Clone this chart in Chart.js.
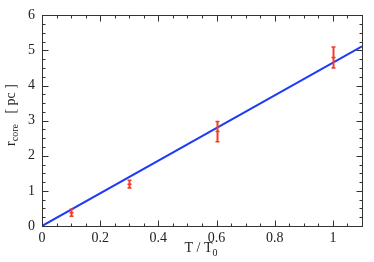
<!DOCTYPE html>
<html><head><meta charset="utf-8">
<script src="https://cdn.jsdelivr.net/npm/chart.js@4"></script>
<style>html,body{margin:0;padding:0;background:#fff}#wrap{width:374px;height:262px}</style>
</head><body><div id="wrap"><canvas id="c" width="374" height="262"></canvas></div>
<script>
// Data
const tValues = [0.1, 0.3, 0.6, 1.0];
const rCore = [0.38, 1.19, 2.69, 4.80];
const rErr = [0.10, 0.11, 0.29, 0.30];
const fitX = [0, 1.1];
const fitY = [0, 5.12];
const xTickValues = [0, 0.2, 0.4, 0.6, 0.8, 1.0];
const xTickLabels = ['0', '0.2', '0.4', '0.6', '0.8', '1'];
const yTickValues = [0, 1, 2, 3, 4, 5, 6];
const yTickLabels = ['0', '1', '2', '3', '4', '5', '6'];

const FONT = 'Liberation Serif';
const RED = '#f43a24';
const BLUE = '#1e3cf5';
const TXT = '#222';

const decorPlugin = {
  id: 'decor',
  afterDatasetsDraw(chart) {
    const ctx = chart.ctx, xs = chart.scales.x, ys = chart.scales.y;
    ctx.save();
    ctx.strokeStyle = RED; ctx.lineWidth = 2;
    tValues.forEach((t, i) => {
      const px = Math.round(xs.getPixelForValue(t)) + 0.5;
      const top = ys.getPixelForValue(rCore[i] + rErr[i]);
      const bot = ys.getPixelForValue(rCore[i] - rErr[i]);
      const mid = ys.getPixelForValue(rCore[i]);
      ctx.beginPath();
      ctx.moveTo(px, top); ctx.lineTo(px, bot);
      ctx.stroke();
      ctx.lineWidth = 1.5;
      ctx.beginPath();
      ctx.moveTo(px - 2, top); ctx.lineTo(px + 2, top);
      ctx.moveTo(px - 2, bot); ctx.lineTo(px + 2, bot);
      ctx.moveTo(px - 2, mid); ctx.lineTo(px + 2, mid);
      ctx.stroke();
      ctx.lineWidth = 2;
    });
    ctx.restore();
  },
  afterDraw(chart) {
    const ctx = chart.ctx, xs = chart.scales.x, ys = chart.scales.y, a = chart.chartArea;
    ctx.save();
    ctx.strokeStyle = '#333'; ctx.lineWidth = 1;
    const L = Math.round(a.left) + 0.5, R = Math.round(a.right) + 0.5, T = Math.round(a.top) + 0.5, B = Math.round(a.bottom) + 0.5;
    ctx.strokeRect(L, T, R - L, B - T);
    ctx.beginPath();
    for (let v = 0; v <= 1.1001; v += 0.05) {
      const major = Math.abs(v / 0.2 - Math.round(v / 0.2)) < 1e-6;
      const len = major ? 6 : 3;
      const px = Math.round(xs.getPixelForValue(v)) + 0.5;
      ctx.moveTo(px, B); ctx.lineTo(px, B - len);
      ctx.moveTo(px, T); ctx.lineTo(px, T + len);
    }
    for (let v = 0; v <= 6.001; v += 0.25) {
      const major = Math.abs(v - Math.round(v)) < 1e-6;
      const len = major ? 6 : 3;
      const py = Math.round(ys.getPixelForValue(v)) + 0.5;
      ctx.moveTo(L, py); ctx.lineTo(L + len, py);
      ctx.moveTo(R, py); ctx.lineTo(R - len, py);
    }
    ctx.stroke();
    // axis titles
    ctx.fillStyle = TXT;
    ctx.textBaseline = 'alphabetic';
    ctx.textAlign = 'left';
    const big = '14px "' + FONT + '"', small = '10px "' + FONT + '"';
    ctx.font = big;
    const main = 'T / T';
    const w1 = ctx.measureText(main).width;
    ctx.font = small;
    const w2 = ctx.measureText('0').width;
    const sx = 201 - (w1 + w2) / 2;
    ctx.font = big;
    ctx.fillText(main, sx, 252);
    ctx.font = small;
    ctx.fillText('0', sx + w1, 256);
    // y title
    ctx.save();
    ctx.translate(15, 115);
    ctx.rotate(-Math.PI / 2);
    ctx.font = big;
    const p1 = 'r', p3 = '   [ pc ]';
    const q1 = ctx.measureText(p1).width, q3 = ctx.measureText(p3).width;
    ctx.font = small;
    const q2 = ctx.measureText('core').width;
    const ox = -(q1 + q2 + q3) / 2;
    ctx.font = big;
    ctx.fillText(p1, ox, 0);
    ctx.font = small;
    ctx.fillText('core', ox + q1, 3);
    ctx.font = big;
    ctx.fillText(p3, ox + q1 + q2, 0);
    ctx.restore();
    ctx.restore();
  }
};

new Chart(document.getElementById('c'), {
  type: 'scatter',
  data: {
    datasets: [
      {
        type: 'line',
        data: fitX.map((x, i) => ({ x: x, y: fitY[i] })),
        borderColor: BLUE, borderWidth: 2, pointRadius: 0, fill: false, tension: 0
      },
      {
        data: tValues.map((x, i) => ({ x: x, y: rCore[i] })),
        pointRadius: 0, borderColor: RED, backgroundColor: RED
      }
    ]
  },
  plugins: [decorPlugin],
  options: {
    responsive: false,
    animation: false,
    events: [],
    layout: { padding: { top: 8, right: 12, left: 0, bottom: 0 } },
    plugins: { legend: { display: false }, tooltip: { enabled: false } },
    scales: {
      x: {
        type: 'linear', min: 0, max: 1.1,
        afterBuildTicks: s => { s.ticks = xTickValues.map(v => ({ value: v })); },
        afterFit: s => { s.height = 36; },
        grid: { display: false, drawTicks: false },
        border: { display: false },
        ticks: {
          padding: 4, color: TXT, font: { family: FONT, size: 14 },
          maxRotation: 0, autoSkip: false,
          callback: v => { const i = xTickValues.findIndex(t => Math.abs(t - v) < 1e-9); return i >= 0 ? xTickLabels[i] : ''; }
        }
      },
      y: {
        type: 'linear', min: 0, max: 6,
        afterBuildTicks: s => { s.ticks = yTickValues.map(v => ({ value: v })); },
        afterFit: s => { s.width = 42; },
        grid: { display: false, drawTicks: false },
        border: { display: false },
        ticks: {
          padding: 7, color: TXT, font: { family: FONT, size: 14 },
          autoSkip: false,
          callback: v => { const i = yTickValues.findIndex(t => Math.abs(t - v) < 1e-9); return i >= 0 ? yTickLabels[i] : ''; }
        }
      }
    }
  }
});
</script>
</body></html>
